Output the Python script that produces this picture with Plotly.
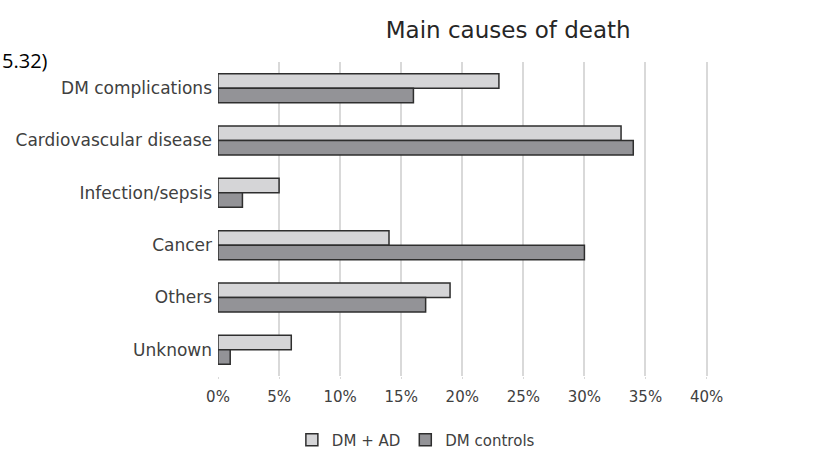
import plotly.graph_objects as go

# Causes of death, percent of deaths in each group
causes = ["DM complications", "Cardiovascular disease", "Infection/sepsis",
          "Cancer", "Others", "Unknown"]
dm_ad = [23, 33, 5, 14, 19, 6]
dm_controls = [16, 34, 2, 30, 17, 1]
x_ticks = [0, 5, 10, 15, 20, 25, 30, 35, 40]
x_tick_labels = ["0%", "5%", "10%", "15%", "20%", "25%", "30%", "35%", "40%"]

FONT = "DejaVu Sans, sans-serif"
TEXT = "#404040"

fig = go.Figure()
fig.add_trace(go.Bar(
    y=causes, x=dm_ad, orientation="h", name="DM + AD",
    marker=dict(color="#d5d5d7", line=dict(color="#2e2e2e", width=1.5)),
))
fig.add_trace(go.Bar(
    y=causes, x=dm_controls, orientation="h", name="DM controls",
    marker=dict(color="#939397", line=dict(color="#2e2e2e", width=1.5)),
))

fig.update_layout(
    width=817, height=450,
    margin=dict(l=218, r=108, t=62, b=74, autoexpand=False),
    paper_bgcolor="white", plot_bgcolor="white",
    barmode="group", bargap=0.445, bargroupgap=0,
    title=dict(text="Main causes of death", xref="container", x=0.622,
               xanchor="center", y=0.933, yanchor="middle",
               font=dict(family=FONT, size=23, color="#262626")),
    font=dict(family=FONT, size=15, color=TEXT),
    showlegend=True,
    legend=dict(orientation="h", x=0.403, xanchor="center", y=-0.204,
                yanchor="middle", font=dict(size=15, color=TEXT),
                itemwidth=30, traceorder="normal"),
    xaxis=dict(range=[0, 40.2], tickvals=x_ticks, ticktext=x_tick_labels,
               showgrid=True, gridcolor="#d9d9d9", gridwidth=1.5,
               zeroline=False, showline=False,
               ticks="outside", ticklen=2, tickcolor="#d9d9d9",
               ticklabelstandoff=5,
               tickfont=dict(size=15, color=TEXT)),
    yaxis=dict(autorange="reversed", showgrid=False, showline=False,
               ticks="", ticklabelstandoff=5,
               tickfont=dict(size=17, color=TEXT)),
)

# Fragment of the preceding caption text at the top-left edge
fig.add_annotation(text="5.32)", xref="paper", yref="paper",
                   x=-0.444, y=1.005, xanchor="left", yanchor="middle",
                   showarrow=False, font=dict(family="Open Sans, sans-serif",
                                              size=20, color="black"))

fig.write_html("out.html")
